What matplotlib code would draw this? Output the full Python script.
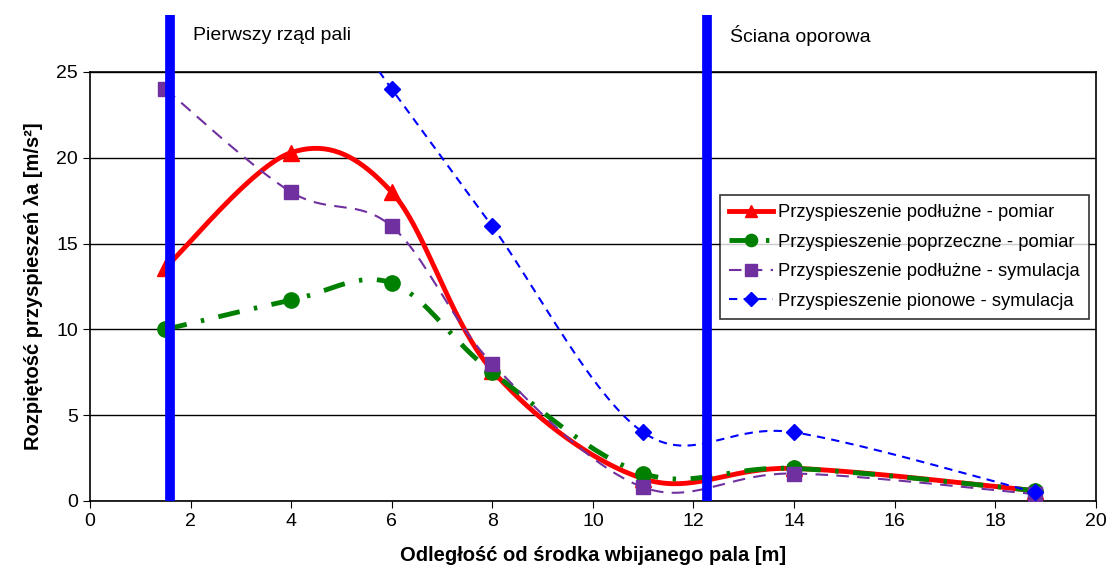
import numpy as np
import matplotlib.pyplot as plt

plt.rcParams['font.family'] = ['Liberation Sans', 'DejaVu Sans']

odleglosc = [1.5, 4, 6, 8, 11, 14, 18.8]
podluzne_pomiar = [13.6, 20.3, 18.0, 7.6, 1.3, 1.9, 0.6]
poprzeczne_pomiar = [10.0, 11.7, 12.7, 7.5, 1.6, 1.9, 0.6]
podluzne_symulacja = [24.0, 18.0, 16.0, 8.0, 0.8, 1.6, 0.4]
pionowe_symulacja = [38.0, 32.0, 24.0, 16.0, 4.0, 4.0, 0.5]

linie_pali = [1.6, 12.27]
opisy_pali = ["Pierwszy rząd pali", "Ściana oporowa"]


def smooth(x, y, n=40):
    # Excel-like smoothed line (Bezier through points, Catmull-Rom tangents)
    x = np.asarray(x, float)
    y = np.asarray(y, float)
    px = np.concatenate([[x[0]], x, [x[-1]]])
    py = np.concatenate([[y[0]], y, [y[-1]]])
    xs, ys = [], []
    t = np.linspace(0, 1, n)
    for i in range(1, len(px) - 2):
        p0 = np.array([px[i], py[i]])
        p3 = np.array([px[i + 1], py[i + 1]])
        c1 = p0 + (np.array([px[i + 1], py[i + 1]]) - np.array([px[i - 1], py[i - 1]])) / 6
        c2 = p3 - (np.array([px[i + 2], py[i + 2]]) - np.array([px[i], py[i]])) / 6
        b = ((1 - t) ** 3)[:, None] * p0 + (3 * (1 - t) ** 2 * t)[:, None] * c1 \
            + (3 * (1 - t) * t ** 2)[:, None] * c2 + (t ** 3)[:, None] * p3
        xs.extend(b[:, 0])
        ys.extend(b[:, 1])
    return xs, ys


fig = plt.figure(figsize=(11.08, 5.71), dpi=100)
ax = fig.add_axes([0.0812, 0.1226, 0.9078, 0.7514])

series = [
    (podluzne_pomiar, 'Przyspieszenie podłużne - pomiar', '#ff0000', '-', 3.5, '^', 11),
    (poprzeczne_pomiar, 'Przyspieszenie poprzeczne - pomiar', '#008000', (0, (4.5, 3, 0.7, 3)), 3.5, 'o', 11),
    (podluzne_symulacja, 'Przyspieszenie podłużne - symulacja', '#7030a0', (0, (6, 4)), 1.5, 's', 10),
    (pionowe_symulacja, 'Przyspieszenie pionowe - symulacja', '#0000ff', (0, (4, 3)), 1.5, 'D', 8.5),
]

for vals, label, color, ls, lw, mk, ms in series:
    sx, sy = smooth(odleglosc, vals)
    ax.plot(sx, sy, color=color, linestyle=ls, linewidth=lw, zorder=3)
    ax.plot(odleglosc, vals, linestyle='none', marker=mk, markersize=ms,
            color=color, zorder=4)
    ax.plot([], [], color=color, linestyle=ls, linewidth=lw, marker=mk,
            markersize=ms * 0.8, label=label)

for xp, txt in zip(linie_pali, opisy_pali):
    ax.plot([xp, xp], [0, 28.3], color='#0000ff', linewidth=7, clip_on=False,
            zorder=5, solid_capstyle='butt')
    ax.text(xp + 0.45, 27.1, txt, fontsize=14, va='center', ha='left')

ax.set_xlim(0, 20)
ax.set_ylim(0, 25)
ax.set_xticks(np.arange(0, 21, 2))
ax.set_yticks(np.arange(0, 26, 5))
ax.yaxis.grid(True, color='black', linewidth=1)
ax.set_axisbelow(True)
ax.tick_params(labelsize=14, direction='out', length=5)
for s in ax.spines.values():
    s.set_linewidth(1.2)

ax.set_xlabel('Odległość od środka wbijanego pala [m]', fontsize=14.5,
              fontweight='bold', labelpad=12)
ax.set_ylabel('Rozpiętość przyspieszeń λa [m/s²]', fontsize=14.5,
              fontweight='bold', labelpad=10)

leg = ax.legend(loc='upper left', bbox_to_anchor=(0.626, 0.713), fontsize=13.2,
                frameon=True, fancybox=False, edgecolor='black',
                handlelength=2.4, borderpad=0.5, labelspacing=0.68,
                handletextpad=0.3, borderaxespad=0)
leg.get_frame().set_linewidth(1.2)

fig.savefig('out.png', dpi=100)
